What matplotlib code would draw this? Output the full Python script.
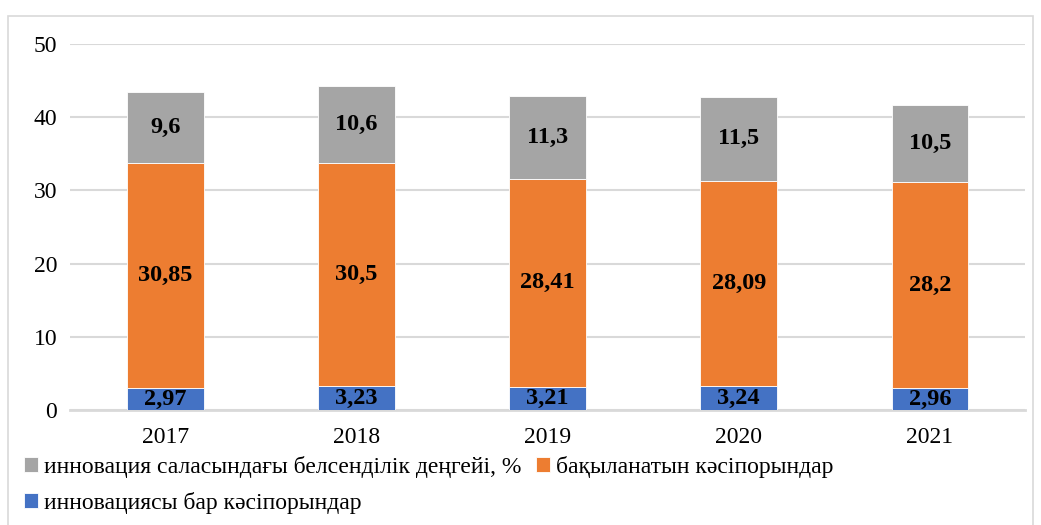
import matplotlib
matplotlib.use("Agg")
import matplotlib.pyplot as plt
from matplotlib.patches import Rectangle
import numpy as np

years = ["2017", "2018", "2019", "2020", "2021"]
innovative = [2.97, 3.23, 3.21, 3.24, 2.96]
observed = [30.85, 30.5, 28.41, 28.09, 28.2]
activity = [9.6, 10.6, 11.3, 11.5, 10.5]

label_innovative = "инновациясы бар кәсіпорындар"
label_observed = "бақыланатын кәсіпорындар"
label_activity = "инновация саласындағы белсенділік деңгейі, %"

BLUE = "#4472c4"
ORANGE = "#ed7d31"
GRAY = "#a5a5a5"


def fmt(v: float) -> str:
    return f"{v:g}".replace(".", ",")


plt.rcParams["font.family"] = ["Liberation Serif", "DejaVu Serif"]

fig = plt.figure(figsize=(10.41, 5.25), dpi=100)
ax = fig.add_axes([0.067, 0.219, 0.918, 0.697])

x = np.arange(len(years))
width = 0.4
bottom2 = np.array(innovative)
bottom3 = bottom2 + np.array(observed)

b1 = ax.bar(x, innovative, width, color=BLUE, edgecolor="white", linewidth=0.6, label=label_innovative, zorder=3)
b2 = ax.bar(x, observed, width, bottom=bottom2, color=ORANGE, edgecolor="white", linewidth=0.6, label=label_observed, zorder=3)
b3 = ax.bar(x, activity, width, bottom=bottom3, color=GRAY, edgecolor="white", linewidth=0.6, label=label_activity, zorder=3)

for bars, vals in ((b1, innovative), (b2, observed), (b3, activity)):
    ax.bar_label(bars, labels=[fmt(v) for v in vals], label_type="center",
                 fontsize=17.5, fontweight="bold", color="black", zorder=4)

ax.set_xlim(-0.5, len(years) - 0.5)
ax.set_ylim(0, 50)
ax.set_yticks([0, 10, 20, 30, 40, 50])
ax.set_xticks(x)
ax.set_xticklabels(years)
ax.tick_params(axis="both", length=0, labelsize=17)
ax.tick_params(axis="y", pad=9)
ax.tick_params(axis="x", pad=12)
ax.grid(axis="y", color="#d9d9d9", linewidth=1.5, zorder=0)
for side in ("top", "right", "left"):
    ax.spines[side].set_visible(False)
ax.spines["bottom"].set_color("#d9d9d9")
ax.spines["bottom"].set_linewidth(2)

handles = [b3, b1, b2]
labels = [label_activity, label_innovative, label_observed]
fig.legend(handles, labels, ncol=2, loc="upper left", bbox_to_anchor=(0.014, 0.15),
           frameon=False, fontsize=17, handlelength=0.6, handleheight=0.6,
           handletextpad=0.25, columnspacing=0.6, labelspacing=0.6, borderaxespad=0)

fig.patches.append(Rectangle((0.008, -0.01), 0.984, 0.98, transform=fig.transFigure,
                             fill=False, edgecolor="#d9d9d9", linewidth=1.2))

fig.savefig("out.png", dpi=100)
